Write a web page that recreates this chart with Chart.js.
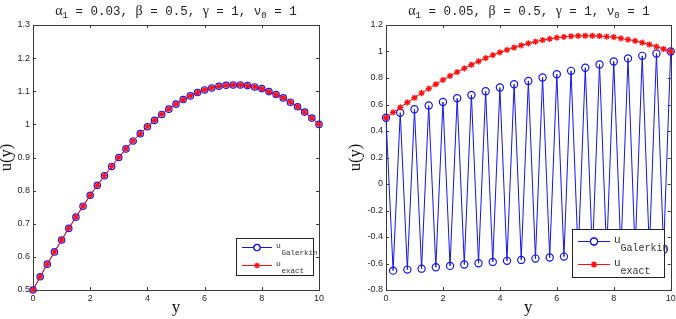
<!DOCTYPE html>
<html>
<head>
<meta charset="utf-8">
<script src="https://cdn.jsdelivr.net/npm/chart.js@4.4.0/dist/chart.umd.min.js"></script>
<style>
  html, body { margin: 0; padding: 0; background: #fff; }
  #wrap { position: relative; width: 676px; height: 319px; overflow: hidden; }
  .panel { position: absolute; top: 0; width: 338px; height: 319px; }
  .ttl {
    position: absolute; top: 3px; transform: translateX(-50%);
    font: 12.5px "Liberation Mono", "DejaVu Sans Mono", monospace;
    line-height: 16px; color: #222; white-space: pre;
  }
  .ttl .gr { font-family: "Liberation Serif", serif; font-size: 14px; }
  .ttl sub { font-size: 9px; vertical-align: -3px; line-height: 0; }
</style>
</head>
<body>
<div id="wrap">
  <div class="panel" style="left:0"><canvas id="chartLeft" width="338" height="319"></canvas></div>
  <div class="panel" style="left:338px"><canvas id="chartRight" width="338" height="319"></canvas></div>
  <div class="ttl" style="left:176px"><span class="gr">α</span><sub>1</sub> = 0.03, <span class="gr">β</span> = 0.5, <span class="gr">γ</span> = 1, ν<sub>0</sub> = 1</div>
  <div class="ttl" style="left:529px"><span class="gr">α</span><sub>1</sub> = 0.05, <span class="gr">β</span> = 0.5, <span class="gr">γ</span> = 1, ν<sub>0</sub> = 1</div>
</div>
<script>
// sample points y = 0 .. 10, step 0.25
const yPoints = [0, 0.25, 0.5, 0.75, 1, 1.25, 1.5, 1.75, 2, 2.25, 2.5, 2.75, 3, 3.25, 3.5, 3.75,
  4, 4.25, 4.5, 4.75, 5, 5.25, 5.5, 5.75, 6, 6.25, 6.5, 6.75, 7, 7.25, 7.5, 7.75,
  8, 8.25, 8.5, 8.75, 9, 9.25, 9.5, 9.75, 10];

// exact solution (same in both panels)
const uExact = [0.500, 0.540, 0.578, 0.615, 0.651, 0.686, 0.720, 0.753, 0.786, 0.816, 0.845, 0.873,
  0.900, 0.926, 0.950, 0.972, 0.993, 1.012, 1.030, 1.046, 1.061, 1.075, 1.086, 1.096,
  1.104, 1.110, 1.115, 1.118, 1.119, 1.119, 1.117, 1.113, 1.108, 1.099, 1.090, 1.080,
  1.067, 1.053, 1.037, 1.019, 1.000];

// Galerkin, alpha1 = 0.03 (sits on top of the exact curve)
const uGalerkinLeft = [0.500, 0.540, 0.578, 0.615, 0.651, 0.686, 0.720, 0.753, 0.786, 0.816, 0.845, 0.873,
  0.900, 0.926, 0.950, 0.972, 0.993, 1.012, 1.030, 1.046, 1.061, 1.075, 1.086, 1.096,
  1.104, 1.110, 1.115, 1.118, 1.119, 1.119, 1.117, 1.113, 1.108, 1.099, 1.090, 1.080,
  1.067, 1.053, 1.037, 1.019, 1.000];

// Galerkin, alpha1 = 0.05 (oscillating)
const uGalerkinRight = [0.500, -0.654, 0.538, -0.646, 0.564, -0.639, 0.592, -0.628, 0.619, -0.618,
  0.647, -0.608, 0.672, -0.598, 0.700, -0.588, 0.728, -0.580, 0.753, -0.573,
  0.778, -0.563, 0.804, -0.555, 0.829, -0.548, 0.854, -0.541, 0.877, -0.534,
  0.902, -0.527, 0.925, -0.520, 0.948, -0.512, 0.967, -0.505, 0.985, -0.497, 1.000];

const xTicks = [0, 2, 4, 6, 8, 10];
const xTickLabels = ['0', '2', '4', '6', '8', '10'];
const yTicksLeft = [0.5, 0.6, 0.7, 0.8, 0.9, 1, 1.1, 1.2, 1.3];
const yTickLabelsLeft = ['0.5', '0.6', '0.7', '0.8', '0.9', '1', '1.1', '1.2', '1.3'];
const yTicksRight = [-0.8, -0.6, -0.4, -0.2, 0, 0.2, 0.4, 0.6, 0.8, 1, 1.2];
const yTickLabelsRight = ['-0.8', '-0.6', '-0.4', '-0.2', '0', '0.2', '0.4', '0.6', '0.8', '1', '1.2'];

const legendNames = [['u', 'Galerkin'], ['u', 'exact']];

const BLUE = '#1414f0';
const RED = '#ff1010';
const AXIS = '#3a3a3a';

// matlab-ish axes box with inward ticks + boxed legend
const matlabFrame = {
  id: 'matlabFrame',
  beforeDatasetsDraw(chart) {
    const { ctx, chartArea: a, scales } = chart;
    ctx.save();
    ctx.strokeStyle = AXIS;
    ctx.lineWidth = 1;
    ctx.beginPath();
    scales.x.ticks.forEach(t => {
      const px = Math.round(scales.x.getPixelForValue(t.value)) + 0.5;
      ctx.moveTo(px, a.bottom); ctx.lineTo(px, a.bottom - 3);
      ctx.moveTo(px, a.top); ctx.lineTo(px, a.top + 3);
    });
    scales.y.ticks.forEach(t => {
      const py = Math.round(scales.y.getPixelForValue(t.value)) + 0.5;
      ctx.moveTo(a.left, py); ctx.lineTo(a.left + 3, py);
      ctx.moveTo(a.right, py); ctx.lineTo(a.right - 3, py);
    });
    ctx.stroke();
    ctx.strokeRect(Math.round(a.left) + 0.5, Math.round(a.top) + 0.5,
      Math.round(a.right - a.left), Math.round(a.bottom - a.top));
    ctx.restore();
  },
  afterDraw(chart, args, o) {
    if (!o || !o.box) return;
    const { ctx } = chart;
    const [bx, by, bw, bh] = o.box;
    ctx.save();
    ctx.fillStyle = '#fff';
    ctx.fillRect(bx, by, bw, bh);
    ctx.strokeStyle = '#222';
    ctx.lineWidth = 1;
    ctx.strokeRect(bx + 0.5, by + 0.5, bw, bh);
    const sets = chart.data.datasets;
    legendNames.forEach((nm, i) => {
      const ds = sets.find(d => d.label === nm[1]);
      const ry = o.rows[i] + 0.5;
      ctx.strokeStyle = ds.borderColor;
      ctx.lineWidth = 1;
      ctx.beginPath();
      ctx.moveTo(o.line[0], ry); ctx.lineTo(o.line[1], ry);
      ctx.stroke();
      const mx = (o.line[0] + o.line[1]) / 2;
      Chart.helpers.drawPoint(ctx, {
        pointStyle: ds.pointStyle, radius: ds.pointRadius, borderWidth: ds.pointBorderWidth, rotation: 0
      }, mx, ry);
      ctx.lineWidth = ds.pointBorderWidth;
      ctx.strokeStyle = ds.pointBorderColor;
      ctx.stroke();
      ctx.fillStyle = '#333';
      ctx.textBaseline = 'alphabetic';
      ctx.font = o.mainSize + 'px "Liberation Mono", monospace';
      ctx.fillText(nm[0], o.textX, ry + o.mainDy);
      ctx.font = o.subSize + 'px "Liberation Mono", monospace';
      ctx.fillText(nm[1], o.textX + o.subDx, ry + o.subDy);
    });
    ctx.restore();
  }
};

function pts(vals) {
  return yPoints.map((x, i) => ({ x: x, y: vals[i] }));
}

function makeChart(id, galerkin, yTicks, yLabels, yMin, yMax, pad, yWidth, legendOpts, markerR) {
  return new Chart(document.getElementById(id), {
    type: 'line',
    data: {
      datasets: [
        {
          label: 'exact', data: pts(uExact), order: 0,
          borderColor: RED, borderWidth: 1, backgroundColor: RED,
          pointStyle: 'star', pointRadius: markerR - 0.5, pointBorderWidth: 1.3,
          pointBorderColor: RED, pointBackgroundColor: RED, clip: false, tension: 0
        },
        {
          label: 'Galerkin', data: pts(galerkin), order: 1,
          borderColor: BLUE, borderWidth: 1, backgroundColor: 'rgba(0,0,0,0)',
          pointStyle: 'circle', pointRadius: markerR, pointBorderWidth: 1.2,
          pointBorderColor: BLUE, pointBackgroundColor: 'rgba(0,0,0,0)', clip: false, tension: 0
        }
      ]
    },
    options: {
      responsive: false, animation: false, events: [],
      layout: { padding: pad },
      plugins: { legend: { display: false }, tooltip: { enabled: false }, title: { display: false },
        matlabFrame: legendOpts },
      scales: {
        x: {
          type: 'linear', min: 0, max: 10,
          grid: { display: false, drawTicks: false }, border: { display: false },
          afterBuildTicks: s => { s.ticks = xTicks.map(v => ({ value: v })); },
          afterFit: s => { s.height = 29; s.paddingLeft = 0; s.paddingRight = 0; },
          ticks: { padding: 3, color: '#262626', font: { family: '"Liberation Sans", Arial', size: 9 },
            maxRotation: 0, callback: (v, i) => xTickLabels[i] },
          title: { display: true, text: 'y', color: '#111',
            font: { family: '"Liberation Serif", serif', size: 17, lineHeight: 1.2 }, padding: { top: 0, bottom: 1 } }
        },
        y: {
          type: 'linear', min: yMin, max: yMax,
          grid: { display: false, drawTicks: false }, border: { display: false },
          afterBuildTicks: s => { s.ticks = yTicks.map(v => ({ value: v })); },
          afterFit: s => { s.width = yWidth; s.paddingTop = 0; s.paddingBottom = 0; },
          ticks: { padding: 3, color: '#262626', font: { family: '"Liberation Sans", Arial', size: 9 },
            callback: (v, i) => yLabels[i] },
          title: { display: true, text: 'u(y)', color: '#111',
            font: { family: '"Liberation Serif", serif', size: 16.5, lineHeight: 0.75 }, padding: { top: 0, bottom: 0 } }
        }
      }
    },
    plugins: [matlabFrame]
  });
}

makeChart('chartLeft', uGalerkinLeft, yTicksLeft, yTickLabelsLeft, 0.5, 1.3,
  { left: 0, right: 19, top: 25, bottom: 0 }, 33,
  { box: [236, 238, 77, 37], rows: [247, 265], line: [242, 272], textX: 276,
    mainSize: 8, subSize: 7.5, mainDy: 0, subDy: 7.5, subDx: 5.5 }, 3.2);

makeChart('chartRight', uGalerkinRight, yTicksRight, yTickLabelsRight, -0.8, 1.2,
  { left: 11, right: 4, top: 25, bottom: 0 }, 37,
  { box: [234, 229, 92, 48], rows: [241, 264], line: [240, 272], textX: 276,
    mainSize: 11, subSize: 10, mainDy: 1, subDy: 9, subDx: 6.5 }, 3.6);
</script>
</body>
</html>
